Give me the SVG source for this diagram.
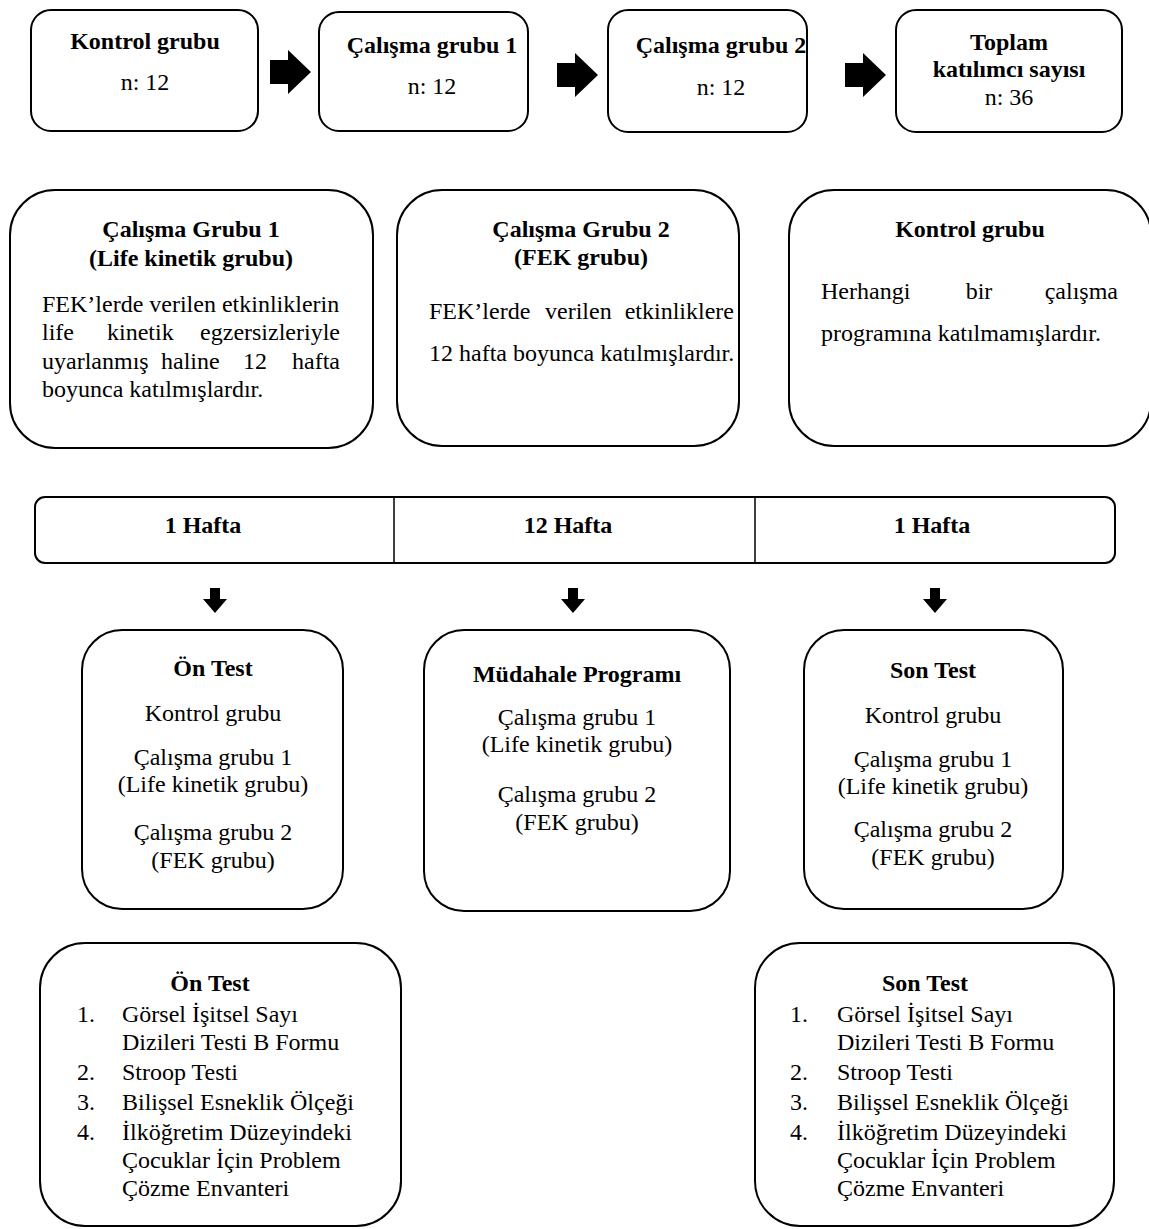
<svg xmlns="http://www.w3.org/2000/svg" width="1149" height="1229" viewBox="0 0 1149 1229">
<style>
.box{fill:#fff;stroke:#000;stroke-width:2}
.arr{fill:#000}
text{font-family:"Liberation Serif","Times New Roman",serif;font-size:24px;fill:#000}
.b{font-weight:bold}
.c{text-anchor:middle}
.e{text-anchor:end}
</style>
<rect width="1149" height="1229" fill="#fff"/>
<g id="connectors">
<path class="arr" d="M270,60 H288 V50 L311,72 L288,94 V84 H270 Z"/>
<path class="arr" d="M557,63 H575 V53 L598,75 L575,97 V87 H557 Z"/>
<path class="arr" d="M845,63 H863 V53 L886,75 L863,97 V87 H845 Z"/>
<path class="arr" d="M210,588 H220 V599 H227 L215,613 L203,599 H210 Z"/>
<path class="arr" d="M568,588 H578 V599 H585 L573,613 L561,599 H568 Z"/>
<path class="arr" d="M930,588 H940 V599 H947 L935,613 L923,599 H930 Z"/>
</g>
<g id="n-kontrol">
<rect class="box" x="31" y="10" width="227" height="121" rx="20"/>
<text class="b c" x="145" y="49">Kontrol grubu</text>
<text class="c" x="145" y="90">n: 12</text>
</g>
<g id="n-calisma1">
<rect class="box" x="319" y="12" width="209" height="119" rx="20"/>
<text class="b c" x="432" y="53">Çalışma grubu 1</text>
<text class="c" x="432" y="94">n: 12</text>
</g>
<g id="n-calisma2">
<rect class="box" x="608" y="10" width="199" height="122" rx="20"/>
<text class="b c" x="721" y="53">Çalışma grubu 2</text>
<text class="c" x="721" y="95">n: 12</text>
</g>
<g id="n-toplam">
<rect class="box" x="896" y="10" width="226" height="122" rx="20"/>
<text class="b c" x="1009" y="50">Toplam</text>
<text class="b c" x="1009" y="77">katılımcı sayısı</text>
<text class="c" x="1009" y="105">n: 36</text>
</g>
<g id="g-calisma1">
<rect class="box" x="10" y="190" width="363" height="258" rx="45"/>
<text class="b c" x="191" y="237">Çalışma Grubu 1</text>
<text class="b c" x="191" y="266">(Life kinetik grubu)</text>
<text x="42" y="312">FEK’lerde verilen etkinliklerin</text>
<text y="340"><tspan x="42">life</tspan><tspan x="107">kinetik</tspan><tspan class="e" x="340" text-anchor="end">egzersizleriyle</tspan></text>
<text y="369"><tspan x="42">uyarlanmış</tspan><tspan x="161">haline</tspan><tspan x="243">12</tspan><tspan x="340" text-anchor="end">hafta</tspan></text>
<text x="42" y="397">boyunca katılmışlardır.</text>
</g>
<g id="g-calisma2">
<rect class="box" x="397" y="190" width="342" height="256" rx="45"/>
<text class="b c" x="581" y="237">Çalışma Grubu 2</text>
<text class="b c" x="581" y="265">(FEK grubu)</text>
<text y="319"><tspan x="429">FEK’lerde</tspan><tspan x="545">verilen</tspan><tspan x="734" text-anchor="end">etkinliklere</tspan></text>
<text x="429" y="361">12 hafta boyunca katılmışlardır.</text>
</g>
<g id="g-kontrol">
<rect class="box" x="789" y="190" width="362" height="256" rx="45"/>
<text class="b c" x="970" y="237">Kontrol grubu</text>
<text y="299"><tspan x="821">Herhangi</tspan><tspan x="979" text-anchor="middle">bir</tspan><tspan x="1118" text-anchor="end">çalışma</tspan></text>
<text x="821" y="341">programına katılmamışlardır.</text>
</g>
<g id="timeline">
<rect class="box" x="35" y="497" width="1080" height="66" rx="10"/>
<line x1="394" y1="497" x2="394" y2="563" stroke="#000" stroke-width="1.5"/>
<line x1="755" y1="497" x2="755" y2="563" stroke="#000" stroke-width="1.5"/>
<text class="b c" x="203" y="533">1 Hafta</text>
<text class="b c" x="568" y="533">12 Hafta</text>
<text class="b c" x="932" y="533">1 Hafta</text>
</g>
<g id="t-ontest">
<rect class="box" x="82" y="630" width="261" height="279" rx="40"/>
<text class="b c" x="213" y="676">Ön Test</text>
<text class="c" x="213" y="721">Kontrol grubu</text>
<text class="c" x="213" y="765">Çalışma grubu 1</text>
<text class="c" x="213" y="792">(Life kinetik grubu)</text>
<text class="c" x="213" y="840">Çalışma grubu 2</text>
<text class="c" x="213" y="868">(FEK grubu)</text>
</g>
<g id="t-mudahale">
<rect class="box" x="424" y="630" width="306" height="281" rx="40"/>
<text class="b c" x="577" y="682">Müdahale Programı</text>
<text class="c" x="577" y="725">Çalışma grubu 1</text>
<text class="c" x="577" y="752">(Life kinetik grubu)</text>
<text class="c" x="577" y="802">Çalışma grubu 2</text>
<text class="c" x="577" y="830">(FEK grubu)</text>
</g>
<g id="t-sontest">
<rect class="box" x="804" y="630" width="259" height="279" rx="40"/>
<text class="b c" x="933" y="678">Son Test</text>
<text class="c" x="933" y="723">Kontrol grubu</text>
<text class="c" x="933" y="767">Çalışma grubu 1</text>
<text class="c" x="933" y="794">(Life kinetik grubu)</text>
<text class="c" x="933" y="837">Çalışma grubu 2</text>
<text class="c" x="933" y="865">(FEK grubu)</text>
</g>
<g id="l-ontest">
<rect class="box" x="40" y="943" width="361" height="283" rx="45"/>
<text class="b c" x="210" y="991">Ön Test</text>
<text x="77" y="1022">1.</text><text x="122" y="1022">Görsel İşitsel Sayı</text>
<text x="122" y="1050">Dizileri Testi B Formu</text>
<text x="77" y="1080">2.</text><text x="122" y="1080">Stroop Testi</text>
<text x="77" y="1110">3.</text><text x="122" y="1110">Bilişsel Esneklik Ölçeği</text>
<text x="77" y="1140">4.</text><text x="122" y="1140">İlköğretim Düzeyindeki</text>
<text x="122" y="1168">Çocuklar İçin Problem</text>
<text x="122" y="1196">Çözme Envanteri</text>
</g>
<g id="l-sontest">
<rect class="box" x="755" y="943" width="359" height="283" rx="45"/>
<text class="b c" x="925" y="991">Son Test</text>
<text x="790" y="1022">1.</text><text x="837" y="1022">Görsel İşitsel Sayı</text>
<text x="837" y="1050">Dizileri Testi B Formu</text>
<text x="790" y="1080">2.</text><text x="837" y="1080">Stroop Testi</text>
<text x="790" y="1110">3.</text><text x="837" y="1110">Bilişsel Esneklik Ölçeği</text>
<text x="790" y="1140">4.</text><text x="837" y="1140">İlköğretim Düzeyindeki</text>
<text x="837" y="1168">Çocuklar İçin Problem</text>
<text x="837" y="1196">Çözme Envanteri</text>
</g>
</svg>
